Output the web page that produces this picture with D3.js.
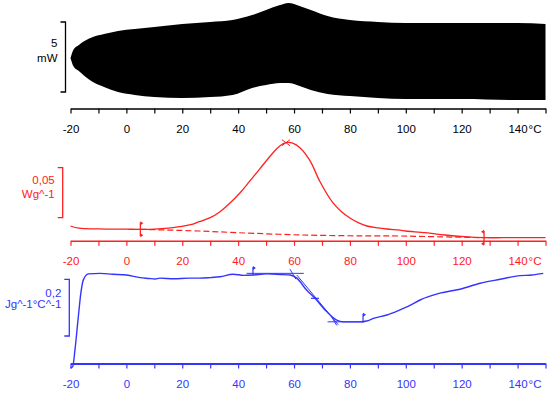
<!DOCTYPE html>
<html>
<head>
<meta charset="utf-8">
<script src="https://d3js.org/d3.v7.min.js"></script>
<style>
  body { margin: 0; background: #fff; }
  text { font-family: "Liberation Sans", Arial, sans-serif; font-size: 11.5px; }
</style>
</head>
<body>
<div id="viz"></div>
<script>
// temperature ticks (°C)
const tickTemps = d3.range(-20, 151, 10);
const labelTemps = [-20, 0, 20, 40, 60, 80, 100, 120, 140];

// top: modulated heat flow envelope (mW)
const hfTemp  = [-20, -19, -17, -15, -12, -8, -3, 3, 10, 20, 30, 38, 45, 50, 55, 58, 62, 66, 72, 80, 90, 100, 120, 140, 150];
const hfUpper = [-0.07, 0.5, 0.86, 1.14, 1.43, 1.64, 1.86, 2.0, 2.14, 2.36, 2.5, 2.64, 3.0, 3.36, 3.71, 3.86, 3.64, 3.36, 2.93, 2.64, 2.5, 2.43, 2.43, 2.43, 2.36];
const hfLower = [-0.07, -0.64, -1.0, -1.36, -1.79, -2.14, -2.5, -2.71, -2.86, -2.93, -2.86, -2.71, -2.21, -2.0, -1.86, -1.86, -2.07, -2.36, -2.64, -2.79, -2.93, -3.0, -3.0, -3.07, -3.07];

// middle: non-reversing heat flow (W/g)
const nrTemp = [-20, -17, -10, 0, 5, 10, 15, 19, 23, 26, 30, 33.5, 37, 40.7, 44, 47.8, 52.5, 55, 57.1, 59.5, 62.1, 65.7, 69.3, 73.9, 77, 80, 83, 86.1, 90, 93.2, 97.9, 100, 107, 114, 121, 128, 135, 150];
const nrVal  = [0.0117, 0.0095, 0.0088, 0.0085, 0.0084, 0.0086, 0.0095, 0.011, 0.013, 0.016, 0.020, 0.026, 0.0345, 0.045, 0.056, 0.069, 0.085, 0.092, 0.095, 0.0945, 0.090, 0.077, 0.056, 0.035, 0.026, 0.0197, 0.015, 0.0117, 0.0098, 0.0087, 0.0075, 0.0067, 0.005, 0.0027, 0.001, 0.0, 0.0, 0.0];
const nrBaseTemp = [5, 26, 40, 63, 85, 98, 112, 128];
const nrBaseVal  = [0.0084, 0.0067, 0.005, 0.0027, 0.0018, 0.0017, 0.0009, 0.0];
const nrLimits = [5, 128];
const nrPeak = [57.1, 0.095];

// bottom: reversing heat capacity (J/g/°C)
const cpTemp = [-20, -19.2, -18.4, -17.2, -16.3, -15.4, -13.6, -9.4, -5, 0.1, 4.9, 8, 10.2, 12, 17, 22.2, 26.3, 30, 33.5, 38.2, 42, 45.3, 50.2, 55, 58.6, 61, 64.5, 67.5, 71.7, 75.3, 77.6, 83.6, 86, 88.4, 93.2, 97.9, 101, 105.1, 112.2, 119.4, 126.6, 133.8, 140.9, 145, 149.2];
const cpVal  = [1.287, 1.292, 1.351, 1.468, 1.551, 1.598, 1.619, 1.621, 1.618, 1.615, 1.606, 1.603, 1.601, 1.604, 1.602, 1.604, 1.604, 1.606, 1.609, 1.618, 1.614, 1.615, 1.619, 1.617, 1.615, 1.604, 1.562, 1.533, 1.486, 1.456, 1.450, 1.450, 1.453, 1.462, 1.474, 1.492, 1.505, 1.527, 1.551, 1.565, 1.586, 1.600, 1.613, 1.615, 1.621];
const cpFlags = [[45.3, 1.615], [84.7, 1.450]];
const cpTangents = [[[43, 1.621], [63.5, 1.621]], [[61, 1.615], [75.8, 1.440]], [[72, 1.450], [85, 1.450]]];
const cpOnset = [59.6, 1.618], cpMid = [67.5, 1.533], cpEnd = [74.2, 1.455];

const width = 550, height = 393;
const black = '#000', red = '#ff2020', blue = '#3434ff';

const svg = d3.select('#viz').append('svg')
    .attr('width', width)
    .attr('height', height);

const x = d3.scaleLinear().domain([-20, 150]).range([70.5, 545.5]);

const yTop = d3.scaleLinear().domain([-2.5, 2.5]).range([92, 22]);
const yMid = d3.scaleLinear().domain([0.02, 0.07]).range([217.7, 167.7]);
const yBot = d3.scaleLinear().domain([1.4, 1.6]).range([336, 279.3]);

function drawAxis(yPos, color, sw) {
  const g = svg.append('g').attr('transform', `translate(0,${yPos})`);
  g.call(d3.axisBottom(x)
      .tickValues(tickTemps)
      .tickSize(5)
      .tickSizeOuter(0)
      .tickFormat(d => labelTemps.includes(d) ? d : ''));
  g.select('.domain').attr('stroke', color).attr('stroke-width', sw);
  g.selectAll('.tick line').attr('stroke', color).attr('stroke-width', 1.2);
  g.selectAll('.tick text')
    .attr('fill', color)
    .attr('y', 16)
    .attr('dy', '0.71em')
    .style('font-family', '"Liberation Sans", Arial, sans-serif')
    .style('font-size', '11.5px');
  g.append('text')
    .attr('x', x(140) + 11)
    .attr('y', 16)
    .attr('dy', '0.71em')
    .attr('text-anchor', 'start')
    .attr('fill', color)
    .style('font-family', '"Liberation Sans", Arial, sans-serif')
    .style('font-size', '11.5px')
    .text('°C');
}

function drawBar(y, bx, color, labels) {
  const [y0, y1] = y.range();
  svg.append('path')
    .attr('d', `M${bx - 5},${y0}H${bx}V${y1}H${bx - 5}`)
    .attr('fill', 'none')
    .attr('stroke', color)
    .attr('stroke-width', 1.3);
  labels.forEach(l => {
    svg.append('text')
      .attr('x', bx - 8)
      .attr('y', l.y)
      .attr('text-anchor', 'end')
      .attr('fill', color)
      .text(l.t);
  });
}

// ---- top panel
const area = d3.area()
  .x((d, i) => x(hfTemp[i]))
  .y0((d, i) => yTop(hfLower[i]))
  .y1((d, i) => yTop(hfUpper[i]))
  .curve(d3.curveMonotoneX);
svg.append('path')
  .datum(hfTemp)
  .attr('d', area)
  .attr('fill', black);
drawAxis(108.5, black, 1.4);
drawBar(yTop, 65.5, black, [{t: '5', y: 46.5}, {t: 'mW', y: 61.5}]);

// ---- middle panel
const lineMid = d3.line().x(d => x(d[0])).y(d => yMid(d[1])).curve(d3.curveCatmullRom);
svg.append('path')
  .datum(d3.zip(nrTemp, nrVal))
  .attr('d', lineMid)
  .attr('fill', 'none')
  .attr('stroke', red)
  .attr('stroke-width', 1.3);
svg.append('path')
  .datum(d3.zip(nrBaseTemp, nrBaseVal))
  .attr('d', lineMid)
  .attr('fill', 'none')
  .attr('stroke', red)
  .attr('stroke-width', 1.2)
  .attr('stroke-dasharray', '6,3');
nrLimits.forEach((t, i) => {
  const px = x(t), cy = yMid(d3.zip(nrTemp, nrVal).find(d => d[0] >= t)[1]);
  const dir = i === 0 ? 1 : -1;
  svg.append('line')
    .attr('x1', px).attr('x2', px)
    .attr('y1', cy - 7).attr('y2', cy + 7)
    .attr('stroke', red).attr('stroke-width', 1.3);
  [cy - 6, cy + 6].forEach(fy => {
    svg.append('path')
      .attr('d', `M${px},${fy - 2}L${px + dir * 3},${fy}L${px},${fy + 2}Z`)
      .attr('fill', red);
  });
});
svg.append('path')
  .attr('d', `M${x(nrPeak[0]) - 4},${yMid(nrPeak[1]) - 3}L${x(nrPeak[0]) + 4},${yMid(nrPeak[1]) + 3}M${x(nrPeak[0]) - 4},${yMid(nrPeak[1]) + 3}L${x(nrPeak[0]) + 4},${yMid(nrPeak[1]) - 3}`)
  .attr('stroke', red).attr('stroke-width', 1);
drawAxis(240.7, red, 1.5);
drawBar(yMid, 62.7, red, [{t: '0,05', y: 183.5}, {t: 'Wg^-1', y: 197.5}]);

// ---- bottom panel
const lineBot = d3.line().x(d => x(d[0])).y(d => yBot(d[1])).curve(d3.curveMonotoneX);
svg.append('path')
  .datum(d3.zip(cpTemp, cpVal))
  .attr('d', lineBot)
  .attr('fill', 'none')
  .attr('stroke', blue)
  .attr('stroke-width', 1.4);
cpTangents.forEach(tg => {
  svg.append('line')
    .attr('x1', x(tg[0][0])).attr('y1', yBot(tg[0][1]))
    .attr('x2', x(tg[1][0])).attr('y2', yBot(tg[1][1]))
    .attr('stroke', blue).attr('stroke-width', 1);
});
cpFlags.forEach(f => {
  const px = x(f[0]), py = yBot(f[1]);
  svg.append('line')
    .attr('x1', px).attr('x2', px)
    .attr('y1', py).attr('y2', py - 8)
    .attr('stroke', blue).attr('stroke-width', 1.2);
  svg.append('path')
    .attr('d', `M${px},${py - 9}L${px + 3},${py - 7}L${px},${py - 5}Z`)
    .attr('fill', blue);
});
[cpOnset, cpEnd].forEach(p => {
  svg.append('line')
    .attr('x1', x(p[0]) - 3).attr('y1', yBot(p[1]) - 5)
    .attr('x2', x(p[0]) + 3).attr('y2', yBot(p[1]) + 5)
    .attr('stroke', blue).attr('stroke-width', 1);
});
svg.append('line')
  .attr('x1', x(cpMid[0]) - 4).attr('y1', yBot(cpMid[1]))
  .attr('x2', x(cpMid[0]) + 4).attr('y2', yBot(cpMid[1]))
  .attr('stroke', blue).attr('stroke-width', 1.2);
drawAxis(363.5, blue, 2);
drawBar(yBot, 69.3, blue, [{t: '0,2', y: 296.5}, {t: 'Jg^-1°C^-1', y: 307.5}]);
</script>
</body>
</html>
